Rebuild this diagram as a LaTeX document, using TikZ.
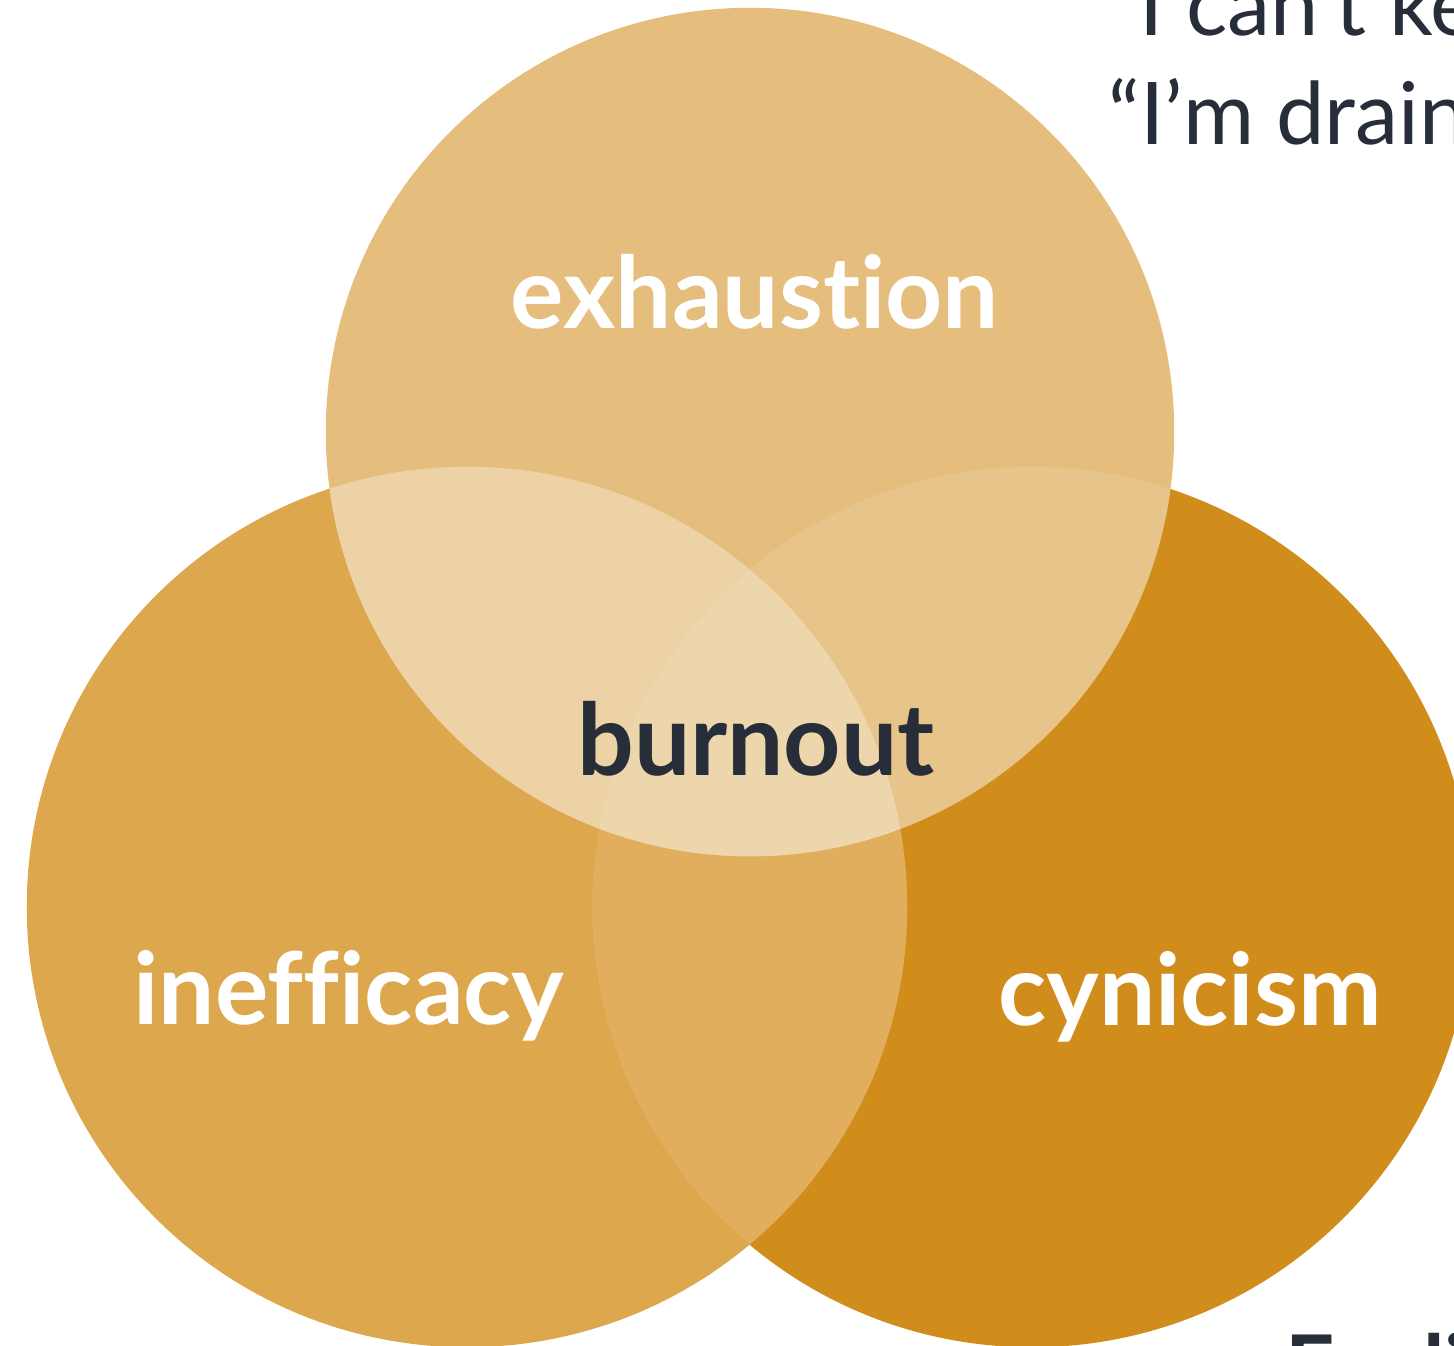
\documentclass[tikz,border=0pt]{standalone}
\usepackage{fontspec}
\setmainfont{Lato}[Ligatures=NoCommon,RawFeature={-liga;-dlig;-clig}]
\definecolor{cTop}{HTML}{E5BE7E}
\definecolor{cLeft}{HTML}{DDA74E}
\definecolor{cRight}{HTML}{D18D1C}
\definecolor{cTopLeft}{HTML}{ECD2A5}
\definecolor{cTopRight}{HTML}{E7C48A}
\definecolor{cLeftRight}{HTML}{E0AE5C}
\definecolor{cCentre}{HTML}{EDD6AB}
\definecolor{ink}{HTML}{272E3A}
\tikzset{
  setlabel/.style={inner sep=0pt, anchor=base, text=white, font=\fontsize{28.4pt}{30pt}\selectfont\bfseries},
  corelabel/.style={setlabel, text=ink},
  quoteline/.style={inner sep=0pt, anchor=base west, text=ink, font=\fontsize{24.6pt}{28pt}\selectfont},
}
\begin{document}
\begin{tikzpicture}[x=0.01cm,y=-0.01cm]
\useasboundingbox (0,0) rectangle (1454,1346);
\clip (0,0) rectangle (1454,1346);
\coordinate (T) at (750,432);
\coordinate (L) at (467,907);
\coordinate (R) at (1032,907);
\def\rT{4.24cm}
\def\rB{4.40cm}
% base circles
\fill[cLeft] (L) circle[radius=\rB];
\fill[cRight] (R) circle[radius=\rB];
\begin{scope}
  \clip (L) circle[radius=\rB];
  \fill[cLeftRight] (R) circle[radius=\rB];
\end{scope}
\fill[cTop] (T) circle[radius=\rT];
% overlaps with the upper circle
\begin{scope}
  \clip (T) circle[radius=\rT];
  \fill[cTopLeft] (L) circle[radius=\rB];
  \fill[cTopRight] (R) circle[radius=\rB];
  \clip (L) circle[radius=\rB];
  \fill[cCentre] (R) circle[radius=\rB];
\end{scope}
% labels
\node[setlabel] (exh) at (755,329) {exhaustion};
\node[setlabel] (ineff) at (349,1024) {inefficacy};
\node[setlabel] (cyn) at (1190,1025) {cynicism};
\node[corelabel] (burn) at (756,775) {burnout};
% quotes and heading at the right edge
\node[quoteline] (q1) at (1139,36) {I can’t keep up.”};
\node[quoteline] (q2) at (1108,145) {“I’m drained.”};
\node[quoteline, font=\fontsize{24.6pt}{28pt}\selectfont\bfseries] (feel) at (1285,1397) {Feelings};
\end{tikzpicture}
\end{document}
